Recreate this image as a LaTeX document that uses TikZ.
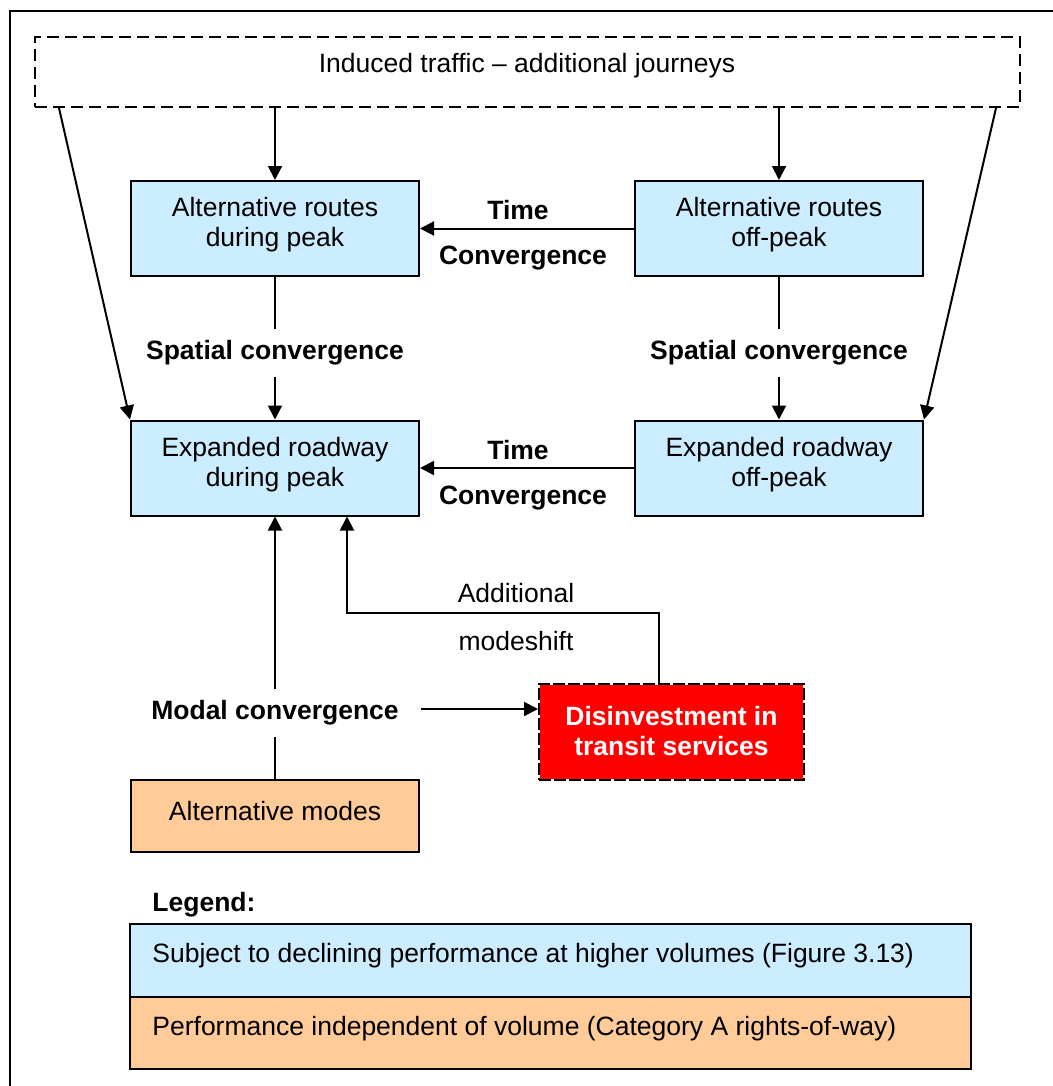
\documentclass[tikz,border=0pt]{standalone}
\usepackage{fontspec}
\setmainfont{Liberation Sans}
\usetikzlibrary{arrows.meta}
\definecolor{lblue}{RGB}{204,236,255}
\definecolor{lorange}{RGB}{255,204,153}
\begin{document}
\begin{tikzpicture}[x=0.5pt,y=-0.5pt,
  font=\fontsize{13.25}{15}\selectfont,
  box/.style={draw, line width=1pt, fill=lblue, minimum width=144pt, minimum height=47.5pt, inner sep=0pt},
  obox/.style={draw, line width=1pt, fill=lorange, inner sep=0pt},
  txt/.style={align=center, inner sep=0pt, yshift=-1.5pt},
  lab/.style={font=\fontsize{13.25}{15}\selectfont\bfseries, inner xsep=4pt, inner ysep=5.5pt, yshift=-1.5pt},
  arr/.style={line width=1pt, -{Triangle[length=7pt,width=7pt]}},
  ln/.style={line width=1pt}
]
\useasboundingbox (0,0) rectangle (1053,1086);
% outer frame (left and top edges visible)
\draw[line width=1pt] (10,1100) -- (10,11) -- (1070,11);

% top dashed box
\node[draw, line width=1pt, dash pattern=on 6pt off 3pt, minimum width=492.5pt, minimum height=35pt, inner sep=0pt] (ind) at (527.5,72) {};
\node[txt] (indt) at (527,63) {Induced traffic -- additional journeys};

% blue boxes
\node[box] (A) at (275,228.5) {};
\node[txt] (At) at (275,222) {Alternative routes\\during peak};
\node[box] (B) at (779,228.5) {};
\node[txt] (Bt) at (779,222) {Alternative routes\\off-peak};
\node[box] (C) at (275,468) {};
\node[txt] (Ct) at (275,462) {Expanded roadway\\during peak};
\node[box] (D) at (779,468) {};
\node[txt] (Dt) at (779,462) {Expanded roadway\\off-peak};

% alternative modes
\node[obox, minimum width=144pt, minimum height=36pt] (M) at (275,816) {};
\node[txt] (Mt) at (275,808) {Alternative modes};

% disinvestment box
\node[fill=red, draw=white, line width=1pt, minimum width=132.5pt, minimum height=48pt, inner sep=0pt,
      postaction={draw=black, line width=1pt, dash pattern=on 6pt off 1.5pt}] (R) at (671.5,732) {};
\node[txt, text=white, font=\fontsize{13.25}{15}\selectfont\bfseries] (Rt) at (671.5,728) {Disinvestment in\\transit services};

% labels
\node[lab] (T1) at (518,207) {Time};
\node[lab] (C1) at (523,255) {Convergence};
\node[lab] (T2) at (518,447) {Time};
\node[lab] (C2) at (523,495) {Convergence};
\node[lab] (SA) at (275,350) {Spatial convergence};
\node[lab] (SB) at (779,350) {Spatial convergence};
\node[lab] (Mod) at (275,710) {Modal convergence};
\node[txt] (Ad) at (516,590) {Additional};
\node[txt] (Ms) at (516,638) {modeshift};

% connectors
\draw[arr] (ind.south -| A.north) -- (A.north);
\draw[arr] (ind.south -| B.north) -- (B.north);
\draw[arr] ([xshift=12.5pt]ind.south west) -- (C.north west);
\draw[arr] ([xshift=-12.5pt]ind.south east) -- (D.north east);
\draw[arr] (B.west) -- (A.east);
\draw[arr] (D.west) -- (C.east);
\draw[ln] (A.south) -- (SA.north);
\draw[arr] (SA.south) -- (C.north);
\draw[ln] (B.south) -- (SB.north);
\draw[arr] (SB.south) -- (D.north);
\draw[ln] (M.north) -- (Mod.south);
\draw[arr] (Mod.north) -- (C.south);
\coordinate (ma) at ([xshift=7pt,yshift=2pt]Mod.east);
\draw[arr] (ma) -- (ma -| R.west);
\coordinate (mb) at (347,613);
\draw[arr] ([xshift=-6.5pt]R.north) |- (mb) -- (mb |- C.south);

% legend
\node[anchor=west, inner sep=0pt, yshift=-1.5pt, font=\fontsize{13.25}{15}\selectfont\bfseries] (Lg) at (152,902) {Legend:};
\node[draw, line width=1pt, fill=lblue, minimum width=420.5pt, minimum height=36.5pt, inner sep=0pt] (L1) at (550.5,960.5) {};
\node[draw, line width=1pt, fill=lorange, minimum width=420.5pt, minimum height=36pt, inner sep=0pt] (L2) at (550.5,1033) {};
\node[anchor=west, inner sep=0pt, yshift=-2pt] (L1t) at (152,952) {Subject to declining performance at higher volumes (Figure 3.13)};
\node[anchor=west, inner sep=0pt, yshift=-2pt] (L2t) at (152,1025) {Performance independent of volume (Category A rights-of-way)};
\end{tikzpicture}
\end{document}
